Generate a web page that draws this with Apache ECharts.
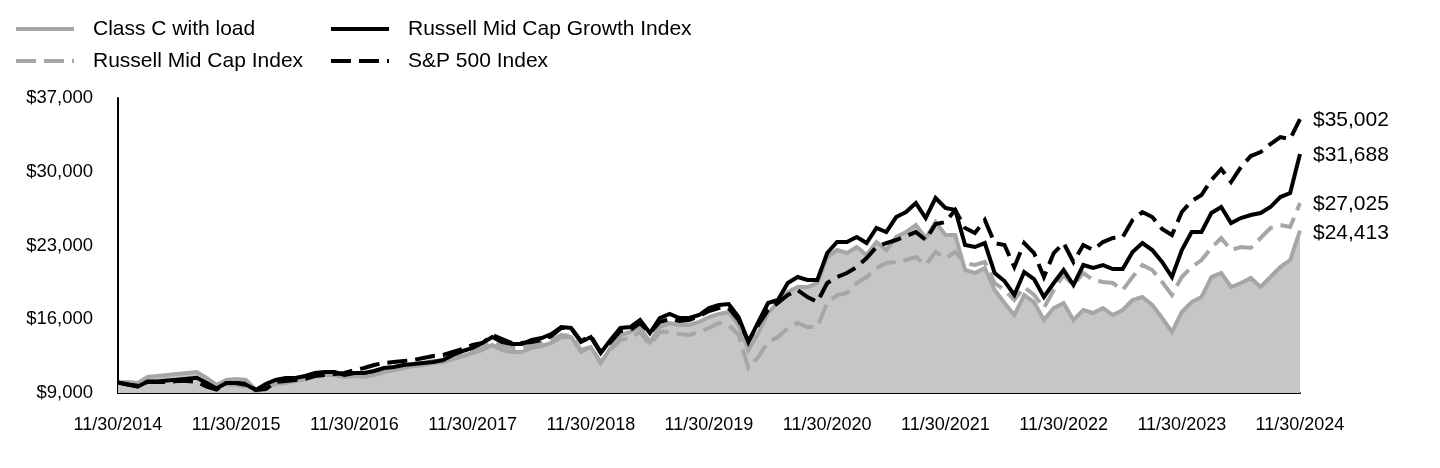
<!DOCTYPE html>
<html>
<head>
<meta charset="utf-8">
<script src="https://cdn.jsdelivr.net/npm/echarts@6/dist/echarts.min.js"></script>
<style>
html,body{margin:0;padding:0;background:#fff;}
#chart{width:1440px;height:468px;}
</style>
</head>
<body>
<div id="chart"></div>
<script>
// Tick labels for the x axis (one every 12 months)
const tickLabels = ['11/30/2014','11/30/2015','11/30/2016','11/30/2017','11/30/2018','11/30/2019','11/30/2020','11/30/2021','11/30/2022','11/30/2023','11/30/2024'];
const yTicks = [9000, 16000, 23000, 30000, 37000];

const seriesNames = ['Class C with load','Russell Mid Cap Index','Russell Mid Cap Growth Index','S&P 500 Index'];

// Monthly values, 11/30/2014 .. 11/30/2024 (121 points)
const classC = [10000,10044,9949,10518,10613,10708,10803,10898,10993,10424,9759,10234,10329,10234,9285,9475,9854,9949,10139,10329,10708,10708,10708,10518,10613,10518,10708,10993,11183,11373,11562,11657,11847,11942,12227,12511,12796,13081,13555,13081,12891,12891,13271,13460,13745,14314,14314,12891,13365,11847,13271,14504,14789,15263,13840,15263,15643,15453,15453,15738,16212,16497,16687,15453,13081,14694,16592,17636,18585,19059,19059,19439,21906,22571,22286,22855,22096,23330,22571,23804,24279,24943,23710,25228,23994,23994,20673,20388,20863,18775,17541,16402,18300,17636,15928,17067,17541,15928,16877,16592,17067,16402,16877,17826,18110,17351,16118,14789,16687,17636,18110,20008,20388,19059,19439,19913,19059,20008,20958,21622,24413];

const russellMidCap = [10000,9800,9700,10130,10130,10130,10230,10230,10130,9680,9330,9780,9780,9600,9190,9475,10044,10234,10329,10518,10708,10803,10803,10613,10803,10708,10898,11183,11373,11562,11752,11847,12037,12132,12416,12701,12986,13271,13840,13460,13271,13271,13555,13745,14030,14504,14409,13081,13365,11942,13081,14030,14220,14789,13555,14789,14789,14599,14504,14789,15169,15643,15453,14504,11373,12416,13840,14314,15169,15643,15263,15263,17541,18300,18490,19439,20008,20863,21337,21432,21622,21906,21147,22381,21812,22381,21337,21147,21432,19439,18775,17826,19059,18300,17067,18775,20198,19249,20388,19724,19534,19439,18775,20008,21147,20673,19534,18300,20008,20958,21622,22761,23710,22571,22855,22761,23710,24659,24943,24753,27025];

const russellMidCapGrowth = [10000,9800,9600,10100,10100,10180,10270,10360,10450,9950,9420,9950,9950,9780,9285,9854,10234,10424,10424,10613,10898,10993,10993,10708,10898,10898,11088,11373,11467,11657,11752,11847,11942,12132,12606,12986,13271,13745,14314,13840,13650,13650,14030,14220,14599,15263,15169,13840,14314,12796,14030,15169,15263,15928,14694,16118,16497,16118,16118,16402,17067,17351,17446,16213,13840,15738,17541,17826,19439,20008,19724,19724,22286,23330,23330,23804,23235,24659,24279,25702,26177,27031,25607,27506,26557,26367,23045,22855,23235,20388,19629,18300,20483,19819,18110,19439,20673,19249,21147,20863,21147,20768,20768,22381,23235,22571,21432,20008,22571,24279,24279,26082,26651,25133,25608,25892,26082,26651,27600,27980,31688];

const sp500 = [10000,9800,9700,10050,10050,10050,10130,10130,10050,9600,9330,9950,9950,9870,9285,9380,10044,10139,10234,10329,10613,10708,10803,10898,11183,11373,11657,11847,11942,12037,12132,12322,12511,12606,12891,13176,13555,13745,14504,14125,13745,13745,13840,14030,14409,15169,15169,13935,14409,12891,13840,14884,14979,15643,14694,15738,16023,15833,15928,16307,16782,17067,17067,15928,13935,15453,16877,17541,18300,18775,18110,17636,19439,20008,20388,20957,21812,22855,23235,23520,23899,24279,23520,25038,25228,26367,24659,24184,25418,23235,23045,20957,23235,22286,20008,22286,23235,21432,23045,22571,23330,23710,23804,25418,26177,25702,24564,23994,26177,27221,27790,29214,30258,29024,30447,31491,31871,32630,33295,33105,35002];

const allValues = [classC, russellMidCap, russellMidCapGrowth, sp500];
const colors = ['#a6a6a6', '#a6a6a6', '#000000', '#000000'];
const dashes = [null, [20, 8], null, [20, 8]];
const endLabelShift = [3, 1, 1, 1];

function money(v) { return '$' + Math.round(v).toLocaleString('en-US'); }

const series = allValues.map((vals, k) => {
  const s = {
    name: seriesNames[k],
    type: 'line',
    data: vals.map((v, i) => [i, v]),
    symbol: 'none',
    z: 2 + k,
    lineStyle: { color: colors[k], width: 4, type: dashes[k] || 'solid', cap: 'butt', join: 'miter' },
    itemStyle: { color: colors[k] },
    endLabel: {
      show: true,
      formatter: p => money(p.value[1]),
      distance: 13,
      offset: [0, endLabelShift[k]],
      color: '#000',
      fontSize: 21,
      fontFamily: 'Liberation Sans, Arial, sans-serif'
    },
    emphasis: { disabled: true }
  };
  if (k === 0) {
    s.areaStyle = { color: '#c6c6c6', opacity: 1, origin: 'start' };
  }
  return s;
});

const legendCommon = {
  orient: 'vertical',
  top: 18,
  padding: 0,
  itemWidth: 58,
  itemHeight: 22,
  itemGap: 10,
  selectedMode: false,
  itemStyle: { opacity: 0, borderWidth: 0 },
  lineStyle: { width: 4 },
  textStyle: {
    fontSize: 21,
    lineHeight: 22,
    color: '#000',
    fontFamily: 'Liberation Sans, Arial, sans-serif',
    padding: [0, 0, 0, 14]
  }
};

const chart = echarts.init(document.getElementById('chart'), null, { renderer: 'canvas' });
chart.setOption({
  animation: false,
  backgroundColor: '#ffffff',
  legend: [
    Object.assign({}, legendCommon, { left: 14, data: [seriesNames[0], seriesNames[1]] }),
    Object.assign({}, legendCommon, { left: 329, data: [seriesNames[2], seriesNames[3]] })
  ],
  grid: { left: 118, right: 140, top: 98, bottom: 75, containLabel: false },
  xAxis: {
    type: 'value',
    min: 0,
    max: 120,
    interval: 12,
    axisLine: { show: true, onZero: false, lineStyle: { color: '#000', width: 2 } },
    axisTick: { show: false },
    splitLine: { show: false },
    axisLabel: {
      margin: 23,
      fontSize: 18,
      color: '#000',
      fontFamily: 'Liberation Sans, Arial, sans-serif',
      formatter: v => tickLabels[Math.round(v / 12)] || ''
    }
  },
  yAxis: {
    type: 'value',
    min: yTicks[0],
    max: yTicks[yTicks.length - 1],
    interval: yTicks[1] - yTicks[0],
    axisLine: { show: true, lineStyle: { color: '#000', width: 2 } },
    axisTick: { show: false },
    splitLine: { show: false },
    axisLabel: {
      margin: 25,
      fontSize: 18.5,
      color: '#000',
      fontFamily: 'Liberation Sans, Arial, sans-serif',
      formatter: v => money(v)
    }
  },
  series: series
});
</script>
</body>
</html>
